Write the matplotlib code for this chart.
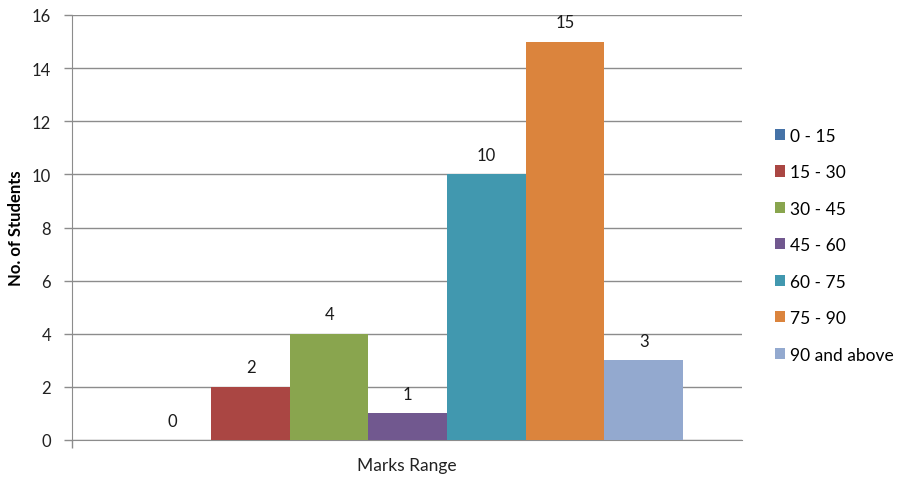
import matplotlib
matplotlib.use("Agg")
import matplotlib.pyplot as plt
from matplotlib.patches import Patch

categories = ["0 - 15", "15 - 30", "30 - 45", "45 - 60", "60 - 75", "75 - 90", "90 and above"]
values = [0, 2, 4, 1, 10, 15, 3]
colors = ["#4572A7", "#AA4643", "#89A54E", "#71588F", "#4198AF", "#DB843D", "#93A9CF"]
yticks = [0, 2, 4, 6, 8, 10, 12, 14, 16]

plt.rcParams['font.family'] = ['Lato', 'DejaVu Sans']

fig = plt.figure(figsize=(8.99, 4.81), dpi=100)
W, H = 899, 481
ax = fig.add_axes([72 / W, 1 - 441 / H, (742 - 72) / W, (441 - 16) / H])

x = list(range(len(values)))
bars = ax.bar(x, values, width=1.0, color=colors, zorder=3)
for xi, v in zip(x, values):
    ax.annotate(str(v), (xi, v), xytext=(0, 14), textcoords="offset points",
                ha="center", va="center", fontsize=12, color="#1a1a1a")

ax.set_xlim(-1.27, 7.25)
ax.set_ylim(0, 16)
ax.set_yticks(yticks)
ax.set_yticklabels([str(t) for t in yticks], fontsize=12, color="#222222")
ax.set_xticks([-1.27])
ax.set_xticklabels([""])
ax.tick_params(axis="x", length=6, width=1, color="#8c8c8c", direction="out")
ax.yaxis.grid(True, color="#8c8c8c", linewidth=1.0, zorder=0)
ax.tick_params(axis="y", length=6, width=1, color="#8c8c8c", pad=9)
for s in ["top", "right"]:
    ax.spines[s].set_visible(False)
ax.spines["left"].set_color("#8c8c8c")
ax.spines["bottom"].set_color("#8c8c8c")

ax.set_ylabel("No. of Students", fontsize=12, fontweight="bold", labelpad=6)
ax.set_xlabel("Marks Range", fontsize=12.5, labelpad=3, color="#222222")

handles = [Patch(facecolor=c, edgecolor="none") for c in colors]
fig.legend(handles, categories, loc="upper left", bbox_to_anchor=(759 / W, 1 - 113 / H),
           frameon=False, fontsize=12.5, handlelength=0.6, handleheight=0.6,
           handletextpad=0.3, labelspacing=1.18)

fig.savefig("out.png", dpi=100)
